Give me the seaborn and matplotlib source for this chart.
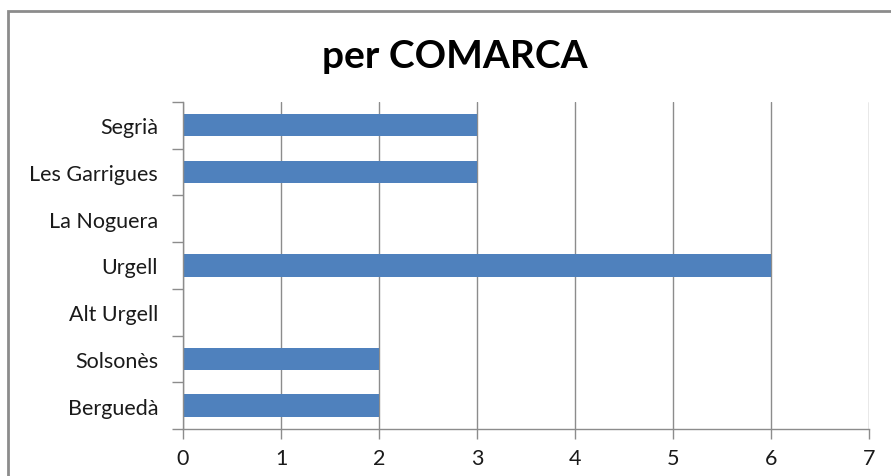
import pandas as pd
import matplotlib.pyplot as plt
import seaborn as sns
from matplotlib.patches import Rectangle
from matplotlib.ticker import FixedLocator

# Data
comarques = ["Segrià", "Les Garrigues", "La Noguera", "Urgell", "Alt Urgell", "Solsonès", "Berguedà"]
valors = [3, 3, 0, 6, 0, 2, 2]

df = pd.DataFrame({"Comarca": comarques, "Valor": valors})

sns.set_style("white")
plt.rcParams["font.family"] = ["Lato", "DejaVu Sans"]

fig = plt.figure(figsize=(8.91, 4.77), dpi=100)
ax = fig.add_axes([0.2054, 0.0985, 0.770, 0.686])

sns.barplot(data=df, x="Valor", y="Comarca", orient="h", color="#4F81BD",
            saturation=1, width=0.48, ax=ax, order=comarques, linewidth=0)

ax.set_xlim(0, 7)
ax.set_ylim(len(comarques) - 0.5, -0.5)
ax.set_xticks(range(0, 8))
ax.grid(axis="x", color="#8C8C8C", linewidth=1)
ax.set_axisbelow(True)
ax.set_xlabel("")
ax.set_ylabel("")

for side in ["top", "right"]:
    ax.spines[side].set_visible(False)
for side in ["left", "bottom"]:
    ax.spines[side].set_color("#8C8C8C")
    ax.spines[side].set_linewidth(1)

# y ticks between categories
ax.yaxis.set_minor_locator(FixedLocator([i - 0.5 for i in range(len(comarques) + 1)]))
ax.tick_params(axis="y", which="major", length=0, labelsize=15.5, pad=18, colors="#1A1A1A")
ax.tick_params(axis="y", which="minor", length=8, width=1, color="#8C8C8C", left=True)
ax.tick_params(axis="x", which="major", length=7, width=1, color="#8C8C8C",
               labelsize=15.5, pad=7, bottom=True, labelcolor="#1A1A1A")

fig.text(0.511, 0.882, "per COMARCA", ha="center", va="center",
         fontsize=28, fontweight="bold", color="black")

# chart area border (partly cut off in the original)
border = Rectangle((8 / 891, -0.1), 1.2, 1 - 12 / 477 + 0.1, transform=fig.transFigure,
                   fill=False, edgecolor="#8C8C8C", linewidth=2)
fig.patches.append(border)

fig.savefig("out.png", dpi=100)
